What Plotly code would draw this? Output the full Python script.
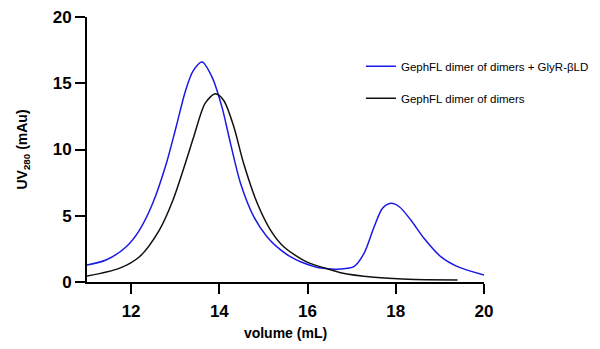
import plotly.graph_objects as go

# Blue: GephFL dimer of dimers + GlyR-βLD
blue_x = [11.0, 11.43, 11.89, 12.19, 12.49, 12.8, 13.02, 13.23, 13.4, 13.61, 13.83, 14.06, 14.25, 14.48,
          14.78, 15.08, 15.39, 15.61, 15.84, 16.3, 16.75, 17.05, 17.28, 17.51, 17.7, 17.89, 18.08, 18.34,
          18.64, 19.02, 19.4, 20.0]
blue_y = [1.28, 1.66, 2.66, 3.92, 5.94, 8.96, 11.7, 14.4, 15.9, 16.6, 15.5, 13.2, 10.5, 7.45,
          4.93, 3.42, 2.42, 1.91, 1.53, 1.05, 0.98, 1.16, 2.16, 4.17, 5.56, 5.94, 5.68, 4.68,
          3.3, 1.91, 1.16, 0.53]

# Black: GephFL dimer of dimers
black_x = [11.0, 11.73, 12.19, 12.64, 12.95, 13.23, 13.42, 13.68, 13.91, 14.1, 14.33, 14.55, 14.86, 15.16,
           15.46, 15.99, 16.45, 16.75, 17.51, 18.27, 19.4]
black_y = [0.45, 1.03, 1.91, 3.92, 6.19, 8.96, 10.96, 13.5, 14.2, 13.7, 11.7, 8.96, 5.94, 3.92,
           2.66, 1.5, 1.0, 0.7, 0.35, 0.2, 0.15]

names = ["GephFL dimer of dimers + GlyR-βLD", "GephFL dimer of dimers"]
x_ticks = [12, 14, 16, 18, 20]
y_ticks = [0, 5, 10, 15, 20]

fig = go.Figure()
fig.add_trace(go.Scatter(x=blue_x, y=blue_y, mode="lines", name=names[0], legendgroup="a",
                         line=dict(color="#1a1ae6", width=1.5, shape="spline", smoothing=0.8)))
fig.add_trace(go.Scatter(x=black_x, y=black_y, mode="lines", name=names[1], legendgroup="b",
                         line=dict(color="#111111", width=1.5, shape="spline", smoothing=0.8)))

axis_common = dict(showline=True, linecolor="black", linewidth=2, ticks="outside", ticklen=10,
                   tickwidth=2, tickcolor="black", showgrid=False, zeroline=False, automargin=False,
                   ticklabeloverflow="allow",
                   tickfont=dict(family="Liberation Sans, Arial", size=17, color="black", weight="bold"))

fig.update_layout(
    width=600, height=349,
    margin=dict(l=79, r=124, t=9, b=75, autoexpand=False),
    paper_bgcolor="white", plot_bgcolor="white",
    xaxis=dict(range=[11, 20], tickvals=x_ticks, ticklabelstandoff=3,
               title=dict(text="<b>volume (mL)</b>", standoff=8,
                          font=dict(family="Liberation Sans, Arial", size=14, color="black")),
               **axis_common),
    yaxis=dict(range=[0, 20], tickvals=y_ticks,
               title=dict(text="<b>UV<sub>280</sub> (mAu)</b>", standoff=22,
                          font=dict(family="Liberation Sans, Arial", size=14, color="black")),
               **axis_common),
    legend=dict(x=0.69, y=0.869, xanchor="left", yanchor="top", tracegroupgap=13,
                font=dict(family="Liberation Sans, Arial", size=11.5, color="black"),
                bgcolor="rgba(0,0,0,0)"),
    showlegend=True,
)

fig.write_html("out.html")
